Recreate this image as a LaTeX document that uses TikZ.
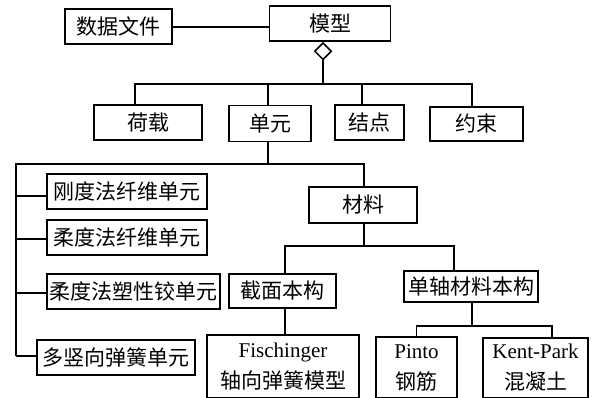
\documentclass[tikz,border=0pt]{standalone}
\usepackage{fontspec}
\setmainfont{Liberation Serif}
\newfontfamily\cjk{Noto Sans CJK SC}
\usetikzlibrary{shapes.geometric}
\begin{document}
\begin{tikzpicture}[x=1pt,y=-1pt,
  box/.style={draw, line width=1.6pt, inner sep=0pt, align=center,
    font=\fontsize{21}{31}\selectfont\cjk},
  conn/.style={line width=1.6pt},
  agg/.style={draw, diamond, fill=white, line width=1.5pt, inner sep=0pt,
    minimum width=17pt, minimum height=17pt}]
\useasboundingbox (0,0) rectangle (595,398);
% top level
\node[box, minimum width=107pt, minimum height=35pt] (data) at (118.5,26.5) {数据文件};
\node[box, minimum width=121pt, minimum height=35pt] (model) at (330,23.5) {模型};
\node[agg, anchor=north] (dia) at (323,42) {};
\node[box, minimum width=108pt, minimum height=35pt] (hezai) at (148,122.5) {荷载};
\node[box, minimum width=82pt, minimum height=36pt] (danyuan) at (270,123.5) {单元};
\node[box, minimum width=69pt, minimum height=35pt] (jiedian) at (369.5,122.5) {结点};
\node[box, minimum width=93pt, minimum height=34pt] (yueshu) at (476.5,124) {约束};
% elements
\node[box, minimum width=160pt, minimum height=35pt] (gangdu) at (127,191.5) {刚度法纤维单元};
\node[box, minimum width=160pt, minimum height=35pt] (roudu) at (127,237.5) {柔度法纤维单元};
\node[box, minimum width=173pt, minimum height=35pt] (sujiao) at (133.5,291.5) {柔度法塑性铰单元};
\node[box, minimum width=158pt, minimum height=35pt] (duoshu) at (116,357.5) {多竖向弹簧单元};
% materials
\node[box, minimum width=108pt, minimum height=36pt] (cailiao) at (363,205) {材料};
\node[box, minimum width=107pt, minimum height=34pt] (jiemian) at (282.5,291) {截面本构};
\node[box, minimum width=134pt, minimum height=31pt] (danzhou) at (471,286.5) {单轴材料本构};
\node[box, minimum width=152pt, minimum height=63pt] (fisch) at (283,366.5) {{\rmfamily Fischinger}\\轴向弹簧模型};
\node[box, minimum width=81pt, minimum height=61pt] (pinto) at (416.5,367.5) {{\rmfamily Pinto}\\钢筋};
\node[box, minimum width=105pt, minimum height=60pt] (kent) at (535.5,368) {{\rmfamily Kent-Park}\\混凝土};
% junctions
\coordinate (j1) at (323,84);
\coordinate (j2) at (268,164);
\coordinate (j3) at (364,246);
\coordinate (j4) at (472,326);
\coordinate (L1) at (16,164);
\coordinate (La) at (16,196);
\coordinate (Lb) at (16,239);
\coordinate (Lc) at (16,293);
\coordinate (Ld) at (16,356);
% connectors
\draw[conn] (data.east |- 0,27) -- (model.west |- 0,27);
\draw[conn] (dia.south) -- (j1);
\draw[conn] ([xshift=-13pt]hezai.north) |- (j1);
\draw[conn] (j1) -| ([xshift=-2pt]danyuan.north);
\draw[conn] (j1) -| ([xshift=-7.5pt]jiedian.north);
\draw[conn] (j1) -| ([xshift=-4.5pt]yueshu.north);
\draw[conn] ([xshift=-2pt]danyuan.south) -- (j2);
\draw[conn] (j2) -- (L1) -- (Ld);
\draw[conn] (La) -- (La -| gangdu.west);
\draw[conn] (Lb) -- (Lb -| roudu.west);
\draw[conn] (Lc) -- (Lc -| sujiao.west);
\draw[conn] (Ld) -- (Ld -| duoshu.west);
\draw[conn] (j2) -| ([xshift=1pt]cailiao.north);
\draw[conn] ([xshift=1pt]cailiao.south) -- (j3);
\draw[conn] (j3) -| ([xshift=2.5pt]jiemian.north);
\draw[conn] (j3) -| ([xshift=-17pt]danzhou.north);
\draw[conn] ([xshift=2.5pt]jiemian.south) -- ([xshift=2.5pt]jiemian.south |- fisch.north);
\draw[conn] ([xshift=1pt]danzhou.south) -- (j4);
\draw[conn] (j4) -| (pinto.north);
\draw[conn] (j4) -| ([xshift=16.5pt]kent.north);
\end{tikzpicture}
\end{document}
